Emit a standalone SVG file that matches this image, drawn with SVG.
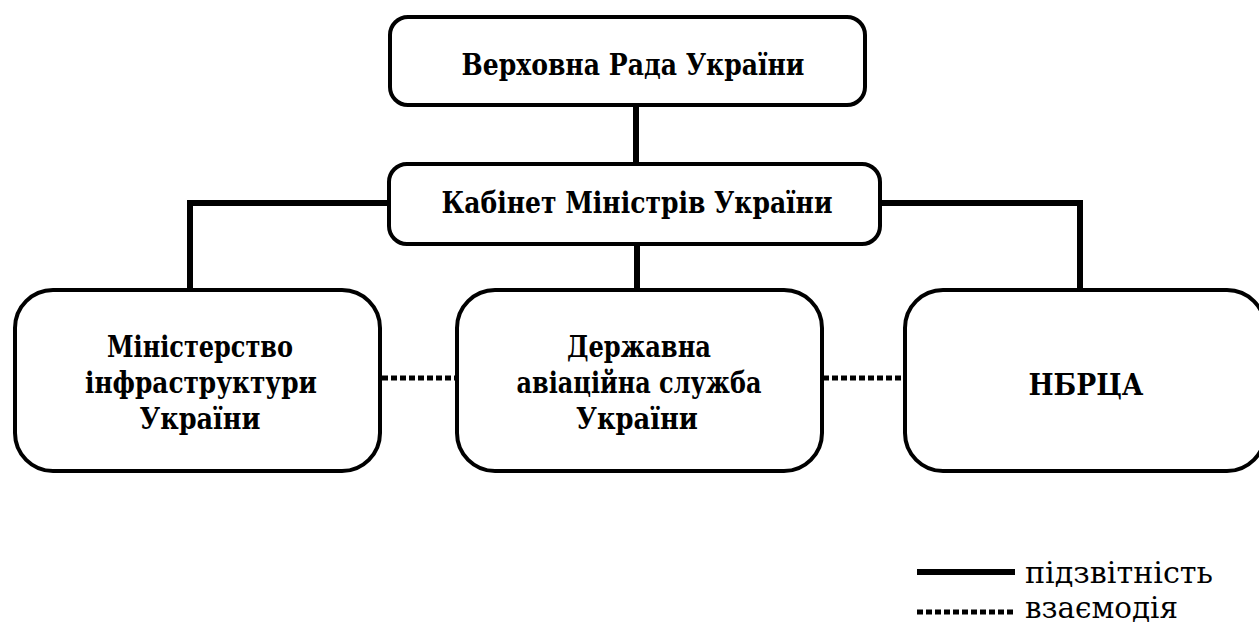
<svg xmlns="http://www.w3.org/2000/svg" width="1259" height="630" viewBox="0 0 1259 630">
<style>
.box{fill:#fff;stroke:#000;stroke-width:4}
.t{font-family:"DejaVu Serif Condensed","DejaVu Serif",serif;font-weight:bold;font-size:29px;fill:#000;text-anchor:middle}
.solid{stroke:#000;stroke-width:6;fill:none}
.dot{stroke:#000;stroke-width:5;fill:none;stroke-dasharray:6 3}
.lg{font-family:"DejaVu Serif Condensed","DejaVu Serif",serif;font-size:30px;fill:#000}
</style>
<rect width="1259" height="630" fill="#fff"/>
<g id="connectors">
<line class="solid" x1="636" y1="105" x2="636" y2="165"/>
<polyline class="solid" points="388,203 190,203 190,290"/>
<polyline class="solid" points="881,203 1080,203 1080,290"/>
<line class="solid" x1="637" y1="245" x2="637" y2="290"/>
<line class="dot" x1="382" y1="378" x2="457" y2="378"/>
<line class="dot" x1="823" y1="378" x2="903" y2="378"/>
</g>
<g id="n-vr">
<rect class="box" x="390" y="17" width="475" height="88" rx="18"/>
<text class="t" x="633" y="75" textLength="343" lengthAdjust="spacingAndGlyphs">Верховна Рада України</text>
</g>
<g id="n-kmu">
<rect class="box" x="389" y="164" width="491" height="80" rx="18"/>
<text class="t" x="637" y="213" textLength="391" lengthAdjust="spacingAndGlyphs">Кабінет Міністрів України</text>
</g>
<g id="n-mi">
<rect class="box" x="15" y="290" width="365" height="181" rx="38"/>
<text class="t" x="200" y="357" textLength="186" lengthAdjust="spacingAndGlyphs">Міністерство</text>
<text class="t" x="201" y="393" textLength="232" lengthAdjust="spacingAndGlyphs">інфраструктури</text>
<text class="t" x="200" y="429" textLength="121" lengthAdjust="spacingAndGlyphs">України</text>
</g>
<g id="n-das">
<rect class="box" x="457" y="290" width="365" height="181" rx="38"/>
<text class="t" x="639" y="357" textLength="144" lengthAdjust="spacingAndGlyphs">Державна</text>
<text class="t" x="639" y="393" textLength="245" lengthAdjust="spacingAndGlyphs">авіаційна служба</text>
<text class="t" x="637" y="429" textLength="122" lengthAdjust="spacingAndGlyphs">України</text>
</g>
<g id="n-nbrca">
<rect class="box" x="905" y="290" width="360" height="181" rx="38"/>
<text class="t" x="1086" y="395" textLength="115" lengthAdjust="spacingAndGlyphs">НБРЦА</text>
</g>
<g id="legend">
<line class="solid" x1="917" y1="572" x2="1015" y2="572"/>
<text class="lg" x="1025" y="583" textLength="188" lengthAdjust="spacingAndGlyphs">підзвітність</text>
<line class="dot" x1="917" y1="612" x2="1015" y2="612"/>
<text class="lg" x="1025" y="618" textLength="153" lengthAdjust="spacingAndGlyphs">взаємодія</text>
</g>
</svg>
